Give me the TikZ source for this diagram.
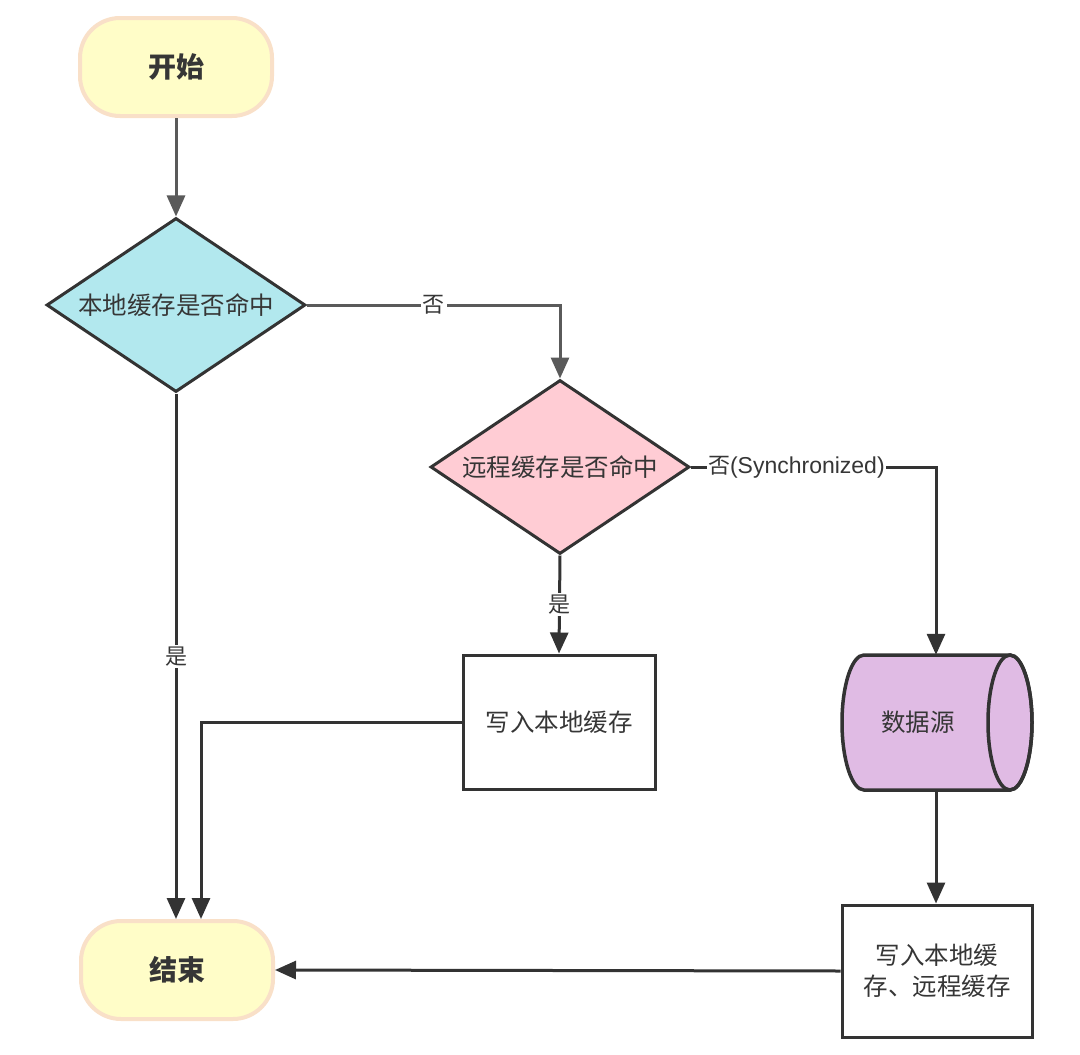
\documentclass[tikz,border=0pt]{standalone}
\usepackage{fontspec}
\newfontfamily\cjk{Noto Sans CJK SC}
\newfontfamily\latin{Liberation Sans}
\usetikzlibrary{shapes.geometric,arrows.meta}
\definecolor{termfill}{HTML}{FFFDC8}
\definecolor{termdraw}{HTML}{F9E0C8}
\definecolor{cyanfill}{HTML}{B2E8EE}
\definecolor{pinkfill}{HTML}{FFCCD4}
\definecolor{purplefill}{HTML}{E0BBE4}
\definecolor{ink}{HTML}{333333}
\definecolor{greyline}{HTML}{5A5A5A}
\definecolor{txt}{HTML}{363636}
\begin{document}
\begin{tikzpicture}[x=1pt,y=-1pt,
  every node/.style={font=\cjk\fontsize{24.5}{31}\selectfont, text=txt},
  terminal/.style={rectangle, rounded corners=40pt, minimum width=192pt, minimum height=98pt, fill=termfill, draw=termdraw, line width=4pt, font=\cjk\bfseries\fontsize{28}{32}\selectfont},
  decision/.style={diamond, inner sep=0pt, minimum width=259pt, minimum height=174pt, aspect=1.49, draw=ink, line width=3pt},
  procbox/.style={rectangle, minimum width=192pt, minimum height=134pt, draw=ink, line width=3pt, fill=white, align=center},
  conn/.style={draw=ink, line width=3pt, -{Triangle[length=21pt,width=18pt]}},
  lbl/.style={fill=white, inner sep=2pt, font=\cjk\fontsize{22}{26}\selectfont}
]
\useasboundingbox[fill=white] (0,0) rectangle (1080,1055);

\node[terminal] (start) at (176,67) {开始};
\node[decision, fill=cyanfill] (d1) at (176,305) {本地缓存是否命中};
\node[decision, fill=pinkfill] (d2) at (560,467) {远程缓存是否命中};
\node[procbox] (p1) at (559,722) {写入本地缓存};
% cylinder (data source)
\node[rectangle, minimum width=188pt, minimum height=135pt, inner sep=0pt] (db) at (936,722.5) {};
\filldraw[fill=purplefill, draw=ink, line width=3.5pt]
  (864,655) -- (1010,655) arc (-90:90:22 and 67.5) -- (864,790) arc (90:270:22 and 67.5) -- cycle;
\draw[draw=ink, line width=3.5pt] (1010,722.5) ellipse (22 and 67.5);
\node (dbtext) at (918,722) {数据源};
\node[procbox, minimum width=190pt, minimum height=132pt] (p2) at (937,971) {写入本地缓\\存、远程缓存};
\node[terminal] (end) at (177,970) {结束};

\draw[conn, draw=greyline] (start) -- (d1);
\draw[conn, draw=greyline] (d1.east) -| node[lbl, pos=0.25] {否} (d2.north);
\draw[conn] (d2.east) -| node[lbl, pos=0.215, inner sep=1pt] {否{\latin\fontsize{23}{26}\selectfont (Synchronized)}} (db.north);
\draw[conn] (d2.south) -- node[lbl] {是} (p1.north);
\draw[conn] (db.south) -- (db.south |- p2.north);
\draw[conn] (p2.west) -- (end.east);
\draw[conn] (d1.south) -- node[lbl] {是} (d1.south |- end.north);
\draw[conn] (p1.west) -| ([xshift=24pt]end.north);
\end{tikzpicture}
\end{document}
